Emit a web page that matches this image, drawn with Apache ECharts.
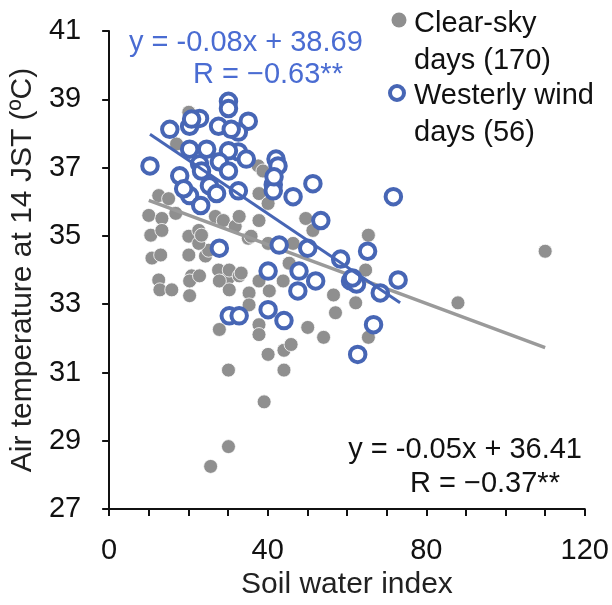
<!DOCTYPE html>
<html>
<head>
<meta charset="utf-8">
<script src="https://cdn.jsdelivr.net/npm/echarts@6/dist/echarts.min.js"></script>
<style>
  html, body { margin: 0; padding: 0; background: #fff; }
  #chart { width: 612px; height: 605px; }
</style>
</head>
<body>
<div id="chart"></div>
<script>
// clear-sky days: [soil water index, air temperature]
const clearSkyDays = [
  [20.1, 38.62], [17.0, 37.69], [12.5, 36.18], [15.0, 36.09], [10.0, 35.60], [13.3, 35.51],
  [10.5, 35.02], [13.3, 35.16], [20.1, 34.99], [22.6, 35.16], [16.8, 35.66], [26.8, 35.57],
  [28.8, 35.45], [31.8, 35.28], [10.8, 34.35], [13.0, 34.44], [20.1, 34.44], [24.3, 34.41],
  [25.1, 34.58], [22.6, 34.78], [20.8, 33.83], [27.6, 34.00], [30.1, 33.77], [12.5, 33.71],
  [23.3, 35.02], [12.8, 33.42], [15.8, 33.42], [20.3, 33.68], [20.3, 33.25], [22.8, 33.83],
  [27.8, 33.68], [30.3, 34.00], [30.3, 33.42], [32.8, 33.83], [35.3, 33.33], [35.3, 32.98],
  [37.8, 33.68], [40.4, 33.39], [43.9, 33.68], [37.8, 32.40], [37.8, 32.11], [27.8, 32.26],
  [40.1, 31.53], [44.1, 31.65], [45.9, 31.82], [30.1, 31.07], [44.1, 31.07], [35.1, 34.93],
  [46.4, 34.78], [30.1, 28.83], [25.6, 28.25], [50.1, 32.32], [54.1, 32.03], [56.6, 33.27],
  [57.1, 32.75], [39.1, 30.14], [62.2, 33.04], [37.6, 37.05], [38.8, 36.90], [37.8, 36.24],
  [40.1, 35.95], [32.8, 35.57], [37.8, 35.45], [35.8, 34.99], [40.1, 34.78], [49.6, 35.51],
  [51.4, 35.16], [33.3, 33.91], [45.4, 34.20], [65.4, 35.02], [64.7, 34.00], [65.4, 32.03],
  [88.0, 33.04], [110.0, 34.55]
];

// westerly wind days
const westerlyDays = [
  [10.3, 37.05], [15.3, 38.12], [20.3, 38.21], [22.8, 38.44], [30.1, 38.94], [30.1, 38.73],
  [27.6, 38.21], [35.1, 38.36], [32.6, 38.04], [20.3, 37.54], [32.6, 37.46], [30.1, 37.49],
  [17.8, 36.76], [22.8, 37.11], [27.8, 37.17], [30.1, 36.90], [25.3, 36.47], [20.3, 36.18],
  [23.1, 35.89], [32.6, 36.32], [42.1, 37.25], [42.6, 37.05], [41.4, 36.50], [41.4, 36.32],
  [46.4, 36.15], [51.4, 36.53], [53.4, 35.45], [71.7, 36.15], [42.9, 34.73], [50.1, 34.64],
  [58.4, 34.32], [65.2, 34.55], [40.1, 33.97], [47.9, 33.97], [52.1, 33.68], [60.9, 33.68],
  [62.4, 33.59], [68.4, 33.33], [72.9, 33.71], [47.6, 33.39], [66.7, 32.40], [62.7, 31.53],
  [27.8, 34.64], [30.3, 32.66], [32.8, 32.66], [40.1, 32.84], [44.1, 32.52], [23.3, 36.90],
  [18.8, 36.38], [24.6, 37.54], [34.6, 37.25], [30.8, 38.12], [20.8, 38.42], [27.1, 36.24],
  [41.6, 36.73], [61.4, 33.77]
];

// regression lines, end points
const clearSkyFit = [[10, 36.04], [110, 31.73]];
const westerlyFit = [[10.3, 37.98], [73.4, 33.04]];

const xTicks = [0, 120, 40];   // min, max, step
const yTicks = [27, 41, 2];

const FONT = '"Liberation Sans", Arial, sans-serif';
const GREY = '#8f8f8f';
const BLUE = '#4766b5';
const TEXT_BLUE = '#4a6cd2';

const chart = echarts.init(document.getElementById('chart'));

chart.setOption({
  animation: false,
  grid: { left: 107, right: 26, top: 31, bottom: 92 },
  xAxis: {
    type: 'value', min: xTicks[0], max: xTicks[1], interval: xTicks[2],
    name: 'Soil water index', nameLocation: 'middle', nameGap: 55,
    nameTextStyle: { fontFamily: FONT, fontSize: 30, color: '#222' },
    axisLine: { lineStyle: { color: '#111', width: 2 } },
    axisTick: { length: 7, lineStyle: { color: '#111', width: 2 } },
    minorTick: { show: true, splitNumber: 4, length: 7, lineStyle: { color: '#111', width: 2 } },
    splitLine: { show: false },
    axisLabel: { fontFamily: FONT, fontSize: 29, color: '#111', margin: 27 }
  },
  yAxis: {
    type: 'value', min: yTicks[0], max: yTicks[1], interval: yTicks[2],
    name: 'Air temperature at 14 JST (ºC)', nameLocation: 'middle', nameGap: 70,
    nameTextStyle: { fontFamily: FONT, fontSize: 30, color: '#222' },
    axisLine: { show: true, lineStyle: { color: '#111', width: 2 } },
    axisTick: { show: true, length: 7, lineStyle: { color: '#111', width: 2 } },
    splitLine: { show: false },
    axisLabel: { fontFamily: FONT, fontSize: 29, color: '#111', margin: 28 }
  },
  series: [
    {
      name: 'Clear-sky days (170)', type: 'scatter', data: clearSkyDays,
      symbolSize: 14,
      itemStyle: { color: GREY, borderColor: '#fff', borderWidth: 0.8, opacity: 1 },
      z: 2
    },
    {
      type: 'line', data: clearSkyFit, showSymbol: false, silent: true,
      lineStyle: { color: '#9a9a9a', width: 3.5 }, z: 3
    },
    {
      name: 'Westerly wind days (56)', type: 'scatter', data: westerlyDays,
      symbolSize: 15.5,
      itemStyle: { color: '#fff', borderColor: BLUE, borderWidth: 4, opacity: 1 },
      z: 4
    },
    {
      type: 'line', data: westerlyFit, showSymbol: false, silent: true,
      lineStyle: { color: BLUE, width: 3 }, z: 5
    }
  ],
  graphic: [
    // legend
    { type: 'circle', shape: { cx: 399, cy: 20, r: 7.5 }, style: { fill: GREY } },
    { type: 'text', left: 414, top: 5, style: { text: 'Clear-sky\ndays (170)', font: '29px ' + FONT, fill: '#111', lineHeight: 37 } },
    { type: 'circle', shape: { cx: 397, cy: 93, r: 7 }, style: { fill: '#fff', stroke: BLUE, lineWidth: 4 } },
    { type: 'text', left: 414, top: 77, style: { text: 'Westerly wind\ndays (56)', font: '29px ' + FONT, fill: '#111', lineHeight: 37 } },
    // fit annotations
    { type: 'text', left: 129, top: 28, style: { text: 'y = -0.08x + 38.69', font: '29px ' + FONT, fill: TEXT_BLUE } },
    { type: 'text', left: 193, top: 60, style: { text: 'R = \u22120.63**', font: '29px ' + FONT, fill: TEXT_BLUE } },
    { type: 'text', right: 30, top: 435, style: { text: 'y = -0.05x + 36.41', font: '29px ' + FONT, fill: '#111' } },
    { type: 'text', left: 410, top: 469, style: { text: 'R = \u22120.37**', font: '29px ' + FONT, fill: '#111' } }
  ]
});
</script>
</body>
</html>
